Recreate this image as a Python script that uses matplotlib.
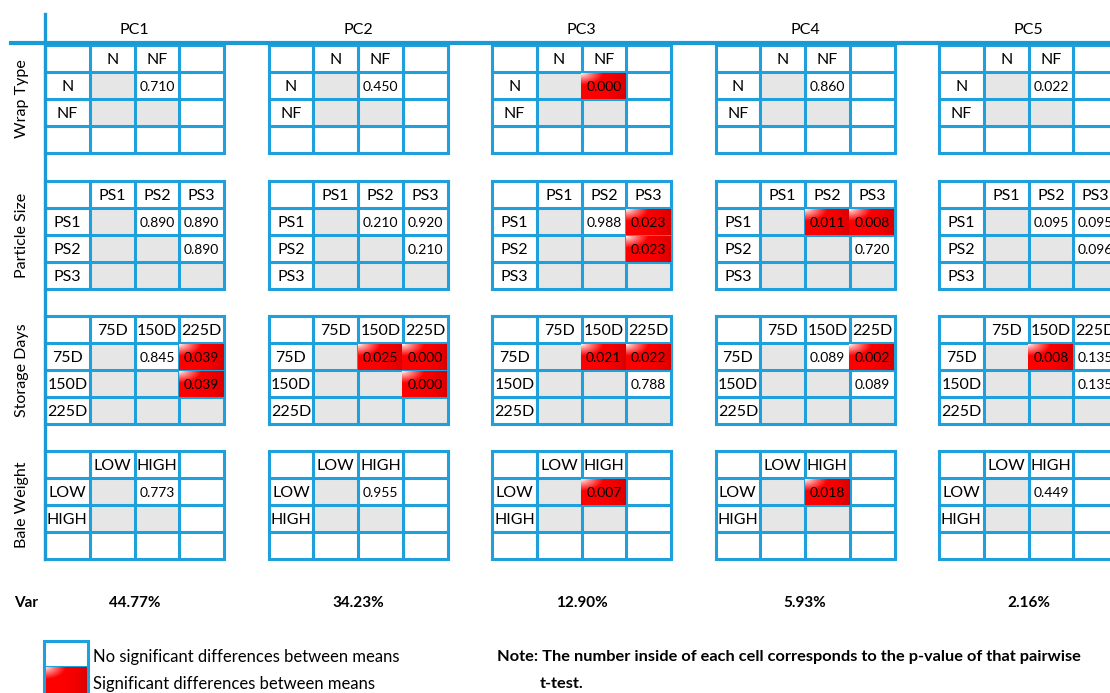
import numpy as np
import matplotlib.pyplot as plt

plt.rcParams['font.family'] = ['Lato', 'DejaVu Sans']

# principal components and variance explained
pcs = ['PC1', 'PC2', 'PC3', 'PC4', 'PC5']
var_explained = [44.77, 34.23, 12.90, 5.93, 2.16]

factors = ['Wrap Type', 'Particle Size', 'Storage Days', 'Bale Weight']
levels = [['N', 'NF'], ['PS1', 'PS2', 'PS3'], ['75D', '150D', '225D'], ['LOW', 'HIGH']]

# pairwise t-test p-values, one list per PC; pairs ordered (1,2), (1,3), (2,3)
wrap_p = [[0.710], [0.450], [0.000], [0.860], [0.022]]
wrap_sig = [[0], [0], [1], [0], [0]]
size_p = [[0.890, 0.890, 0.890], [0.210, 0.920, 0.210], [0.988, 0.023, 0.023],
          [0.011, 0.008, 0.720], [0.095, 0.095, 0.096]]
size_sig = [[0, 0, 0], [0, 0, 0], [0, 1, 1], [1, 1, 0], [0, 0, 0]]
days_p = [[0.845, 0.039, 0.039], [0.025, 0.000, 0.000], [0.021, 0.022, 0.788],
          [0.089, 0.002, 0.089], [0.008, 0.135, 0.135]]
days_sig = [[0, 1, 1], [1, 1, 1], [1, 1, 0], [0, 1, 0], [1, 0, 0]]
weight_p = [[0.773], [0.955], [0.007], [0.018], [0.449]]
weight_sig = [[0], [0], [1], [1], [0]]

p_values = [wrap_p, size_p, days_p, weight_p]
significant = [wrap_sig, size_sig, days_sig, weight_sig]

BLUE = '#1ea0dc'
AXIS_BLUE = '#1b9bd6'
GRAY = '#e6e6e6'

# layout in pixels
block_x0, block_dx = 45, 223.5
col_w, row_h = 44.75, 27
block_tops = [45, 181, 316, 451]


def red_patch(ax, x0, y0, w, h):
    """Fill a cell with a red gradient, white highlight in the top-left corner."""
    u, v = np.meshgrid(np.linspace(0, 1, 60), np.linspace(0, 1, 40))
    d = np.clip(np.hypot(u, v * 1.1) / 0.5, 0, 1) ** 0.8
    shade = 1 - 0.15 * u ** 3
    img = np.zeros(u.shape + (3,))
    img[..., 0] = shade
    img[..., 1] = (1 - d) * shade
    img[..., 2] = (1 - d) * shade
    ax.imshow(np.clip(img, 0, 1), extent=(x0, x0 + w, y0 + h, y0),
              interpolation='bilinear', aspect='auto', zorder=3)


fig = plt.figure(figsize=(11.1, 6.93), dpi=100)
ax = fig.add_axes([0, 0, 1, 1])

for i, pc in enumerate(pcs):
    bx = block_x0 + i * block_dx
    ax.text(bx + 2 * col_w, 30, pc, ha='center', va='center', fontsize=11.5)
    ax.text(bx + 2 * col_w, 603, f'{var_explained[i]:.2f}%', ha='center', va='center',
            fontsize=11, fontweight='bold')

    for f, top in enumerate(block_tops):
        labs = levels[f]
        n = len(labs)
        # grey diagonal and lower triangle
        for r in range(1, n + 1):
            for c in range(1, r + 1):
                ax.add_patch(plt.Rectangle((bx + c * col_w, top + r * row_h), col_w, row_h,
                                           facecolor=GRAY, edgecolor='none', zorder=1))
        # level labels
        for k, lab in enumerate(labs):
            ax.text(bx + (k + 1.5) * col_w, top + 0.55 * row_h, lab, ha='center', va='center',
                    fontsize=11.5, zorder=5)
            ax.text(bx + 0.5 * col_w, top + (k + 1.55) * row_h, lab, ha='center', va='center',
                    fontsize=11.5, zorder=5)
        # p-values
        pairs = [(a, b) for a in range(n) for b in range(a + 1, n)]
        for (a, b), p, s in zip(pairs, p_values[f][i], significant[f][i]):
            cx = bx + (b + 1) * col_w
            cy = top + (a + 1) * row_h
            if s:
                red_patch(ax, cx - 0.5, cy + 1, col_w - 0.5, row_h - 1)
            ax.text(cx + col_w / 2, cy + row_h * 0.55, f'{p:.3f}', ha='center', va='center',
                    fontsize=10, zorder=5)
        # cell grid
        for k in range(5):
            ax.plot([bx + k * col_w] * 2, [top, top + 4 * row_h], color=BLUE, lw=2.2,
                    solid_capstyle='projecting', zorder=2)
            ax.plot([bx, bx + 4 * col_w], [top + k * row_h] * 2, color=BLUE, lw=2.2,
                    solid_capstyle='projecting', zorder=2)

# factor labels down the left side
for f, top in enumerate(block_tops):
    ax.text(22, top + 2 * row_h, factors[f], rotation=90, ha='center', va='center', fontsize=11.5)

# frame lines
ax.plot([11, 1110], [43, 43], color=AXIS_BLUE, lw=3, zorder=4)
ax.plot([45, 45], [14, 559], color=AXIS_BLUE, lw=2.4, zorder=4)

ax.text(14, 603, 'Var', ha='left', va='center', fontsize=11, fontweight='bold')

# legend
ax.add_patch(plt.Rectangle((44, 641), 44, 26, facecolor='white', edgecolor=BLUE, lw=2.2, zorder=2))
red_patch(ax, 44, 667, 44, 27)
ax.plot([44, 44], [667, 693], color=BLUE, lw=2.2, zorder=4)
ax.plot([88, 88], [667, 693], color=BLUE, lw=2.2, zorder=4)
ax.text(93, 657, 'No significant differences between means', ha='left', va='center', fontsize=12)
ax.text(93, 684, 'Significant differences between means', ha='left', va='center', fontsize=12)
ax.text(497, 657, 'Note: The number inside of each cell corresponds to the p-value of that pairwise',
        ha='left', va='center', fontsize=11.8, fontweight='bold')
ax.text(540, 684, 't-test.', ha='left', va='center', fontsize=11.8, fontweight='bold')

ax.set_xlim(0, 1110)
ax.set_ylim(693, 0)
ax.axis('off')

plt.savefig('out.png', dpi=100)
plt.close()
